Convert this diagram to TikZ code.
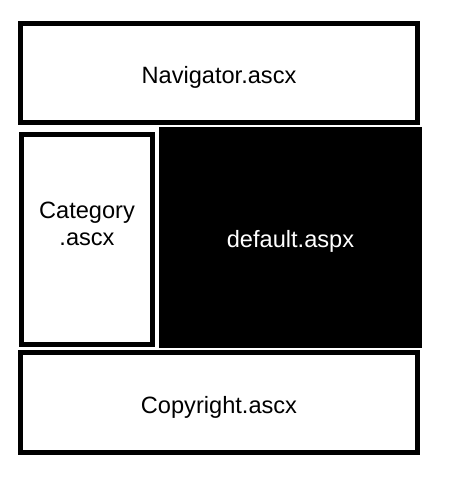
\documentclass[tikz,border=0pt]{standalone}
\usepackage{fontspec}
\setmainfont{Liberation Sans}
\begin{document}
\begin{tikzpicture}[x=1pt,y=-1pt,
  pagebox/.style={draw=black, line width=5pt, fill=white, inner sep=0pt,
    align=center, font=\fontsize{23.6}{26.5}\selectfont},
  mainbox/.style={fill=black, text=white, inner sep=0pt,
    font=\fontsize{23.6}{26.5}\selectfont}]
\useasboundingbox (0,0) rectangle (456,480);
\node[pagebox, minimum width=397pt, minimum height=99pt, text height=20pt, text depth=0pt] (nav) at (219,73) {Navigator.ascx};
\node[pagebox, minimum width=131pt, minimum height=210pt, text height=11pt, text depth=0pt] (cat) at (87,239.5) {Category\\.ascx};
\node[mainbox, minimum width=263pt, minimum height=221pt, text height=19pt, text depth=0pt] (def) at (290.5,237.5) {default.aspx};
\node[pagebox, minimum width=397pt, minimum height=100pt, text height=21pt, text depth=0pt] (copy) at (219,402.5) {Copyright.ascx};
\end{tikzpicture}
\end{document}
